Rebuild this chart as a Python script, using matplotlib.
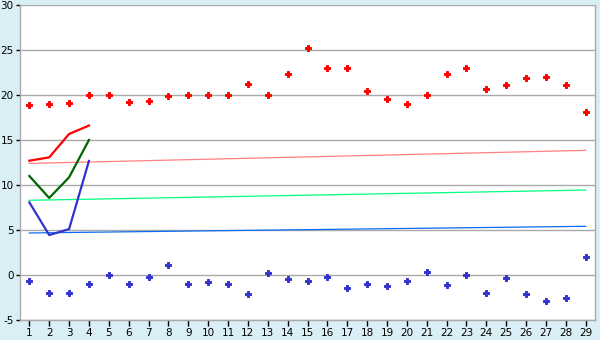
import matplotlib
matplotlib.use("Agg")
import matplotlib.pyplot as plt

x = list(range(1, 30))
red_pts = [18.85, 18.96, 19.07, 20.0, 20.0, 19.19, 19.33, 19.85, 20.0, 20.0,
           20.0, 21.19, 20.0, 22.3, 25.19, 22.96, 22.96, 20.41, 19.52, 18.96,
           20.0, 22.3, 22.96, 20.63, 21.07, 21.85, 21.96, 21.07, 18.07]
blue_pts = [-0.70, -2.0, -2.0, -1.0, 0.0, -1.0, -0.26, 1.07, -1.0, -0.81,
            -1.0, -2.15, 0.19, -0.48, -0.70, -0.26, -1.48, -1.0, -1.26, -0.70,
            0.3, -1.15, 0.0, -2.0, -0.37, -2.15, -2.93, -2.59, 1.96]

line_x = [1, 2, 3, 4]
red_line = [12.7, 13.07, 15.67, 16.6]
green_line = [11.0, 8.56, 10.85, 15.0]
blue_line = [8.07, 4.44, 5.1, 12.67]

trend_x = [1, 29]
pink_trend = [12.4, 13.85]
green_trend = [8.3, 9.44]
blue_trend = [4.67, 5.41]

yticks = [-5, 0, 5, 10, 15, 20, 25, 30]

fig = plt.figure(figsize=(6, 3.4), dpi=100)
fig.patch.set_facecolor("#d9eff5")
ax = fig.add_axes([20/600, 20/340, 575/600, 315/340])
ax.set_facecolor("white")

for yv in yticks:
    ax.axhline(yv, color="#aaaaaa", lw=1.0, zorder=1)

ax.plot(trend_x, pink_trend, color="#ff8080", lw=0.9, zorder=2)
ax.plot(trend_x, green_trend, color="#00ff80", lw=0.9, zorder=2)
ax.plot(trend_x, blue_trend, color="#0a6ef0", lw=0.9, zorder=2)

ax.plot(line_x, red_line, color="#ff0000", lw=1.6, zorder=3)
ax.plot(line_x, green_line, color="#006600", lw=1.6, zorder=3)
ax.plot(line_x, blue_line, color="#3333cc", lw=1.6, zorder=3)

ax.plot(x, red_pts, linestyle="none", marker="P", ms=4.5, color="#ff0000",
        markeredgecolor="#ff0000", markeredgewidth=0.7, zorder=4)
ax.plot(x, blue_pts, linestyle="none", marker="P", ms=4.5, color="#3333cc",
        markeredgecolor="#3333cc", markeredgewidth=0.7, zorder=4)

ax.set_xlim(0.53, 29.47)
ax.set_ylim(-5, 30)
ax.set_xticks(x)
ax.set_xticklabels([str(v) for v in x])
ax.set_yticks(yticks)
ax.set_yticklabels([str(v) for v in yticks])
ax.tick_params(axis="both", labelsize=7.5, colors="black", length=4, width=1, pad=1.5)
ax.tick_params(axis="y", length=3)
for s in ["left", "bottom", "right", "top"]:
    ax.spines[s].set_color("#aaaaaa")
    ax.spines[s].set_linewidth(1.0)
ax.spines["top"].set_visible(False)

fig.savefig("out.png", dpi=100, facecolor=fig.get_facecolor())
